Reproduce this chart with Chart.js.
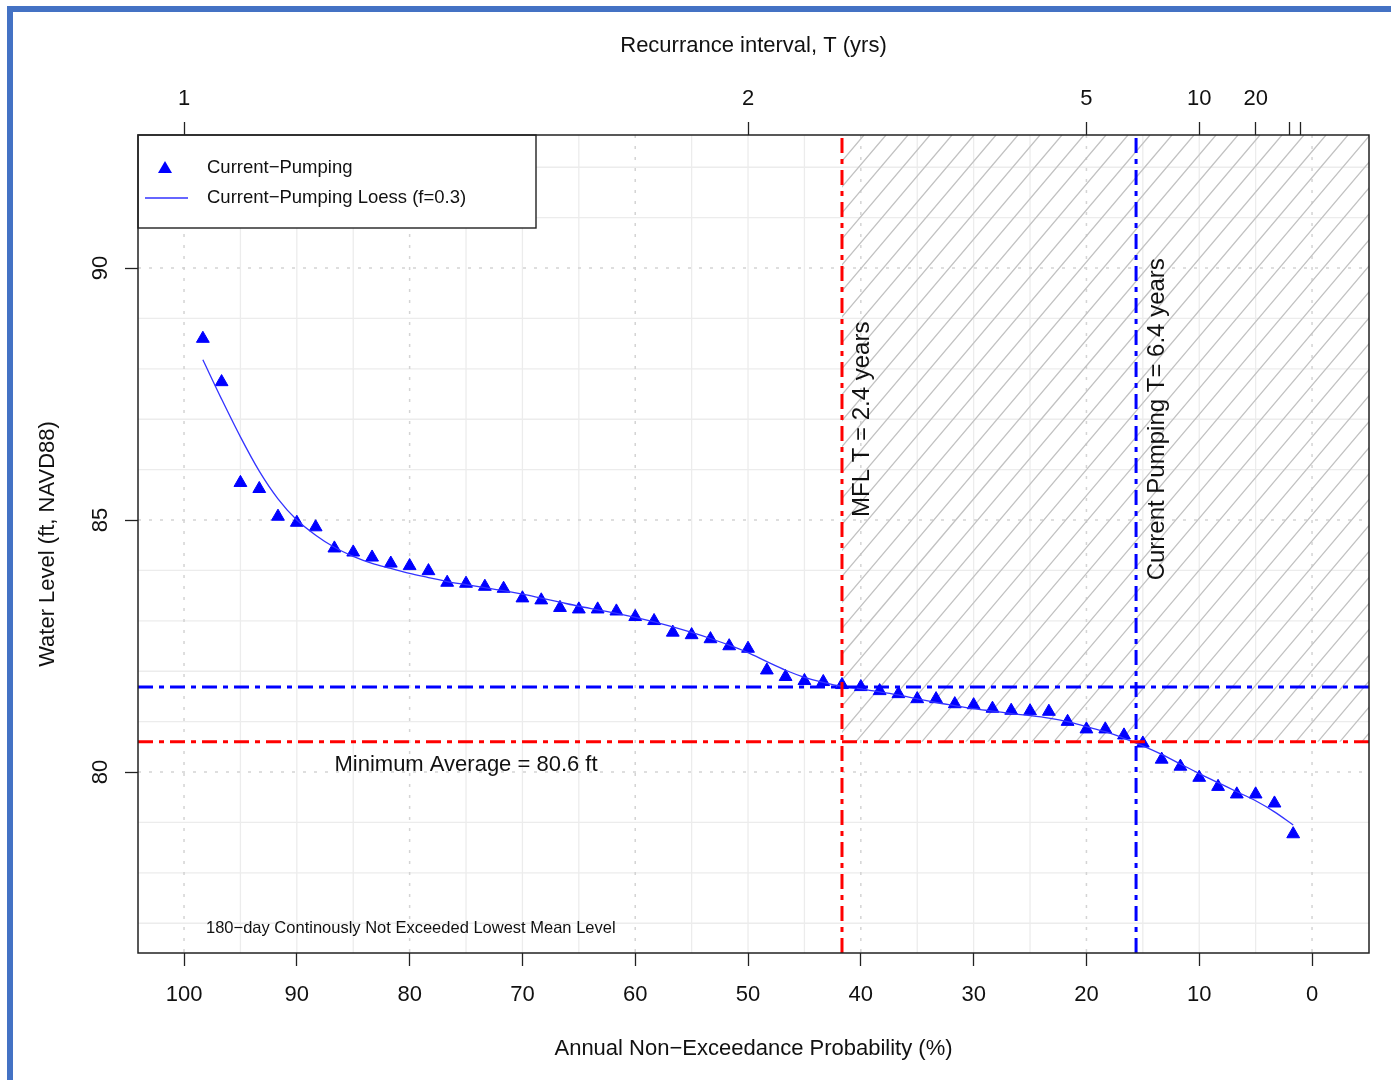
<!DOCTYPE html>
<html lang="en">
<head>
<meta charset="UTF-8">
<title>Recurrance interval - Water Level</title>
<script src="https://cdn.jsdelivr.net/npm/chart.js@4.4.1/dist/chart.umd.min.js"></script>
<style>
    html, body { margin: 0; padding: 0; background: #fff; overflow: hidden; }
    .frame {
        position: absolute; left: 7px; top: 6px; right: 0; bottom: 0;
        border-top: 6px solid #4472c4; border-left: 6px solid #4472c4;
    }
    #chart { position: absolute; left: 0; top: 0; }
</style>
</head>
<body>
<div class="frame"></div>
<canvas id="chart" width="1391" height="1080"></canvas>

<script>
// annual non-exceedance probability (%) of each ranked year
const probs = [98.33, 96.67, 95.00, 93.33, 91.67, 90.00, 88.33, 86.67, 85.00, 83.33,
               81.67, 80.00, 78.33, 76.67, 75.00, 73.33, 71.67, 70.00, 68.33, 66.67,
               65.00, 63.33, 61.67, 60.00, 58.33, 56.67, 55.00, 53.33, 51.67, 50.00,
               48.33, 46.67, 45.00, 43.33, 41.67, 40.00, 38.33, 36.67, 35.00, 33.33,
               31.67, 30.00, 28.33, 26.67, 25.00, 23.33, 21.67, 20.00, 18.33, 16.67,
               15.00, 13.33, 11.67, 10.00, 8.33, 6.67, 5.00, 3.33, 1.67];

// Current-Pumping water levels (ft)
const levels = [88.60, 87.74, 85.74, 85.62, 85.07, 84.95, 84.86, 84.44, 84.36, 84.26,
                84.14, 84.09, 83.99, 83.76, 83.74, 83.68, 83.64, 83.45, 83.41, 83.26,
                83.23, 83.23, 83.19, 83.08, 83.00, 82.77, 82.72, 82.64, 82.50, 82.45,
                82.02, 81.89, 81.81, 81.79, 81.73, 81.69, 81.61, 81.55, 81.45, 81.45,
                81.35, 81.33, 81.26, 81.22, 81.21, 81.20, 81.00, 80.85, 80.85, 80.73,
                80.57, 80.25, 80.11, 79.89, 79.71, 79.56, 79.56, 79.38, 78.77];

// loess fit (f=0.3)
const loess = [88.18, 87.40, 86.65, 85.97, 85.42, 85.00, 84.70, 84.46, 84.28, 84.14,
               84.04, 83.94, 83.86, 83.78, 83.72, 83.66, 83.60, 83.53, 83.45, 83.37,
               83.29, 83.22, 83.15, 83.07, 82.98, 82.88, 82.77, 82.65, 82.52, 82.37,
               82.19, 82.02, 81.88, 81.78, 81.70, 81.65, 81.59, 81.53, 81.45, 81.38,
               81.32, 81.26, 81.21, 81.16, 81.12, 81.07, 81.00, 80.90, 80.80, 80.67,
               80.52, 80.35, 80.16, 79.97, 79.79, 79.61, 79.43, 79.21, 78.95];

const xTicks = [100, 90, 80, 70, 60, 50, 40, 30, 20, 10, 0];
const yTicks = [80, 85, 90];
const yTickLabels = ['80', '85', '90'];
const topYears = [1, 2, 5, 10, 20, 50, 100];
const topLabels = ['1', '2', '5', '10', '20', '', ''];

const xGridSolid = [95, 90, 85, 75, 70, 65, 55, 50, 45, 35, 30, 25, 15, 10, 5];
const xGridDotted = [100, 80, 60, 40, 20, 0];
const yGridSolid = [77, 78, 79, 81, 82, 83, 84, 86, 87, 88, 89, 91, 92];
const yGridDotted = [80, 85, 90];

const minAvg = 80.6;     // minimum average level
const curLevel = 81.69;  // current pumping level at MFL T
const mflP = 41.67;      // T = 2.4 yrs
const curP = 15.6;       // T = 6.4 yrs

const xMin = -5.05, xMax = 104.08, yMin = 76.41, yMax = 92.64;

Chart.defaults.font.family = '"Liberation Sans", Arial, sans-serif';
Chart.defaults.color = '#111';

function vline(ctx, px, a) { ctx.beginPath(); ctx.moveTo(px, a.top); ctx.lineTo(px, a.bottom); ctx.stroke(); }
function hline(ctx, py, a) { ctx.beginPath(); ctx.moveTo(a.left, py); ctx.lineTo(a.right, py); ctx.stroke(); }

function rotText(ctx, txt, px, py) {
    ctx.save();
    ctx.translate(px, py);
    ctx.rotate(-Math.PI / 2);
    ctx.fillText(txt, 0, 0);
    ctx.restore();
}

const extras = {
    id: 'extras',
    beforeDatasetsDraw(chart) {
        const {ctx, chartArea: a, scales: {x, y}} = chart;
        // grid
        ctx.save();
        ctx.lineWidth = 1.3;
        ctx.strokeStyle = '#ececec';
        xGridSolid.forEach(v => vline(ctx, x.getPixelForValue(v), a));
        yGridSolid.forEach(v => hline(ctx, y.getPixelForValue(v), a));
        ctx.strokeStyle = '#d4d4d4';
        ctx.lineWidth = 1.5;
        ctx.setLineDash([3, 8]);
        xGridDotted.forEach(v => vline(ctx, x.getPixelForValue(v), a));
        yGridDotted.forEach(v => hline(ctx, y.getPixelForValue(v), a));
        ctx.restore();

        // hatched zone
        const hx = x.getPixelForValue(mflP), hy = y.getPixelForValue(minAvg);
        ctx.save();
        ctx.beginPath();
        ctx.rect(hx, a.top, a.right - hx, hy - a.top);
        ctx.clip();
        ctx.strokeStyle = '#c2c2c2';
        ctx.lineWidth = 1.3;
        const run = (hy - a.top) / 1.18;
        ctx.beginPath();
        for (let sx = hx - run; sx < a.right; sx += 22) {
            ctx.moveTo(sx, hy);
            ctx.lineTo(sx + run, a.top);
        }
        ctx.stroke();
        ctx.restore();
    },
    afterDatasetsDraw(chart) {
        const {ctx, chartArea: a, scales: {x, y}} = chart;
        ctx.save();
        ctx.fillStyle = '#111';
        ctx.textBaseline = 'middle';

        // y tick labels, rotated like R
        ctx.font = '22px "Liberation Sans", Arial';
        ctx.textAlign = 'center';
        yTicks.forEach((v, i) => rotText(ctx, yTickLabels[i], a.left - 37, y.getPixelForValue(v)));

        // annotations
        ctx.fillText('Minimum Average = 80.6 ft', x.getPixelForValue(75), y.getPixelForValue(minAvg) + 23);
        ctx.font = '24px "Liberation Sans", Arial';
        rotText(ctx, 'MFL T = 2.4 years', x.getPixelForValue(mflP) + 20, y.getPixelForValue(87));
        rotText(ctx, 'Current Pumping T= 6.4 years', x.getPixelForValue(curP) + 21, y.getPixelForValue(87));
        ctx.font = '16.5px "Liberation Sans", Arial';
        ctx.textAlign = 'left';
        ctx.fillText('180\u2212day Continously Not Exceeded Lowest Mean Level', x.getPixelForValue(98.05), y.getPixelForValue(76.9));

        // legend
        const lx = a.left, ly = a.top;
        ctx.fillStyle = '#fff';
        ctx.fillRect(lx, ly, 398, 93);
        ctx.strokeStyle = '#222';
        ctx.lineWidth = 1.4;
        ctx.strokeRect(lx, ly, 398, 93);
        const cx = lx + 27, cy = ly + 34;
        ctx.fillStyle = '#0000ff';
        ctx.beginPath();
        ctx.moveTo(cx, cy - 8);
        ctx.lineTo(cx + 7, cy + 4);
        ctx.lineTo(cx - 7, cy + 4);
        ctx.closePath();
        ctx.fill();
        ctx.strokeStyle = '#3333ff';
        ctx.lineWidth = 1.3;
        ctx.beginPath();
        ctx.moveTo(lx + 7, ly + 63);
        ctx.lineTo(lx + 50, ly + 63);
        ctx.stroke();
        ctx.fillStyle = '#111';
        ctx.font = '18.5px "Liberation Sans", Arial';
        ctx.fillText('Current\u2212Pumping', lx + 69, ly + 33);
        ctx.fillText('Current\u2212Pumping Loess (f=0.3)', lx + 69, ly + 63);

        // plot box
        ctx.strokeStyle = '#222';
        ctx.lineWidth = 1.5;
        ctx.strokeRect(a.left, a.top, a.right - a.left, a.bottom - a.top);
        ctx.restore();
    }
};

const refLine = (pts, color) => ({
    data: pts, showLine: true, borderColor: color, borderWidth: 3,
    borderDash: [15, 6, 5, 6], pointRadius: 0, fill: false
});

const ctx = document.getElementById('chart').getContext('2d');
new Chart(ctx, {
    type: 'scatter',
    data: {
        datasets: [
            refLine([{x: mflP, y: yMin}, {x: mflP, y: yMax}], '#ff0000'),
            refLine([{x: xMin, y: minAvg}, {x: xMax, y: minAvg}], '#ff0000'),
            refLine([{x: curP, y: yMin}, {x: curP, y: yMax}], '#0000ff'),
            refLine([{x: xMin, y: curLevel}, {x: xMax, y: curLevel}], '#0000ff'),
            {
                label: 'Current-Pumping Loess (f=0.3)',
                data: probs.map((p, i) => ({x: p, y: loess[i]})),
                showLine: true, borderColor: '#3333ff', borderWidth: 1.3,
                cubicInterpolationMode: 'monotone',
                pointRadius: 0, fill: false
            },
            {
                label: 'Current-Pumping',
                data: probs.map((p, i) => ({x: p, y: levels[i]})),
                pointStyle: 'triangle', pointRadius: 7.4, borderWidth: 1,
                backgroundColor: '#0000ff', borderColor: '#0000ff'
            }
        ]
    },
    options: {
        responsive: false,
        animation: false,
        layout: { padding: { right: 22 } },
        plugins: { legend: { display: false }, tooltip: { enabled: false } },
        scales: {
            x: {
                type: 'linear', position: 'bottom', min: xMin, max: xMax, reverse: true,
                afterBuildTicks: s => { s.ticks = xTicks.map(v => ({value: v})); },
                afterFit: s => { s.height = 127; },
                ticks: { autoSkip: false, maxRotation: 0, font: { size: 22 }, padding: 16,
                         callback: (v, i) => String(xTicks[i]) },
                grid: { drawOnChartArea: false, tickLength: 13, tickColor: '#222', tickWidth: 1.3 },
                border: { display: false },
                title: { display: true, text: 'Annual Non\u2212Exceedance Probability (%)',
                         font: { size: 22 }, padding: { bottom: 18 } }
            },
            x2: {
                type: 'linear', position: 'top', min: xMin, max: xMax, reverse: true,
                afterBuildTicks: s => { s.ticks = topYears.map(t => ({value: 100 / t})); },
                afterFit: s => { s.height = 135; },
                ticks: { autoSkip: false, maxRotation: 0, font: { size: 22 }, padding: 10,
                         callback: (v, i) => topLabels[i] },
                grid: { drawOnChartArea: false, tickLength: 13, tickColor: '#222', tickWidth: 1.3 },
                border: { display: false },
                title: { display: true, text: 'Recurrance interval, T (yrs)',
                         font: { size: 22 }, padding: { top: 33 } }
            },
            y: {
                type: 'linear', min: yMin, max: yMax,
                afterBuildTicks: s => { s.ticks = yTicks.map(v => ({value: v})); },
                afterFit: s => { s.width = 138; },
                ticks: { display: false },
                grid: { drawOnChartArea: false, tickLength: 13, tickColor: '#222', tickWidth: 1.3 },
                border: { display: false },
                title: { display: true, text: 'Water Level (ft, NAVD88)',
                         font: { size: 22 }, padding: { top: 35 } }
            }
        }
    },
    plugins: [extras]
});
</script>
</body>
</html>
